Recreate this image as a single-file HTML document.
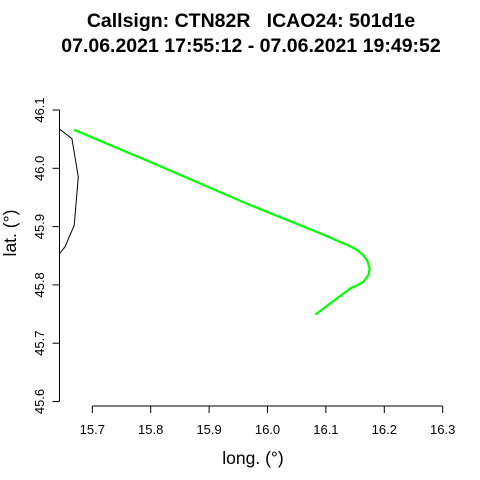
<!DOCTYPE html>
<html><head><meta charset="utf-8"><style>
html,body{margin:0;padding:0;background:#fff;}
svg{display:block;font-family:"Liberation Sans",Arial,sans-serif;}
</style></head><body>
<svg id="chart" width="480" height="480" viewBox="0 0 480 480">
<rect width="480" height="480" fill="#fff"/>
<text x="251" y="27" text-anchor="middle" font-size="19.5" font-weight="bold">Callsign: CTN82R&#160;&#160;&#160;ICAO24: 501d1e</text>
<text x="251" y="52" text-anchor="middle" font-size="19.5" font-weight="bold">07.06.2021 17:55:12 - 07.06.2021 19:49:52</text>
<text x="253" y="464" text-anchor="middle" font-size="17.5">long. (°)</text>
<text transform="translate(16,233) rotate(-90)" text-anchor="middle" font-size="17.5">lat. (°)</text>
<g id="axes"></g>
<g id="marks"></g>
</svg>
<script>
const xTicks = [15.7, 15.8, 15.9, 16.0, 16.1, 16.2, 16.3];
const xTickLabels = ["15.7","15.8","15.9","16.0","16.1","16.2","16.3"];
const yTicks = [45.6, 45.7, 45.8, 45.9, 46.0, 46.1];
const yTickLabels = ["45.6","45.7","45.8","45.9","46.0","46.1"];
const borderLon = [15.644, 15.665, 15.676, 15.669, 15.653, 15.644];
const borderLat = [46.067, 46.051, 45.985, 45.902, 45.865, 45.854];
const trackLon = [15.669, 15.799, 15.970, 16.084, 16.142, 16.153, 16.164, 16.171, 16.175, 16.173, 16.164, 16.153, 16.142, 16.107, 16.082];
const trackLat = [46.066, 46.011, 45.937, 45.891, 45.866, 45.860, 45.851, 45.841, 45.828, 45.817, 45.805, 45.799, 45.794, 45.768, 45.749];

const NS = "http://www.w3.org/2000/svg";
function sx(v){ return 92.3 + (v - 15.7) * 584; }
function sy(v){ return 110 + (46.1 - v) * 583; }
const axes = document.getElementById('axes');
const marks = document.getElementById('marks');
function mk(tag, attrs, parent){
  const e = document.createElementNS(NS, tag);
  for (const k in attrs) e.setAttribute(k, attrs[k]);
  parent.appendChild(e);
  return e;
}
const xl = mk('line', {x1: sx(xTicks[0]), x2: sx(xTicks[xTicks.length-1]), y1: 406, y2: 406, stroke: '#000'}, axes);


xTicks.forEach((t, i) => {
  const tk = mk('line', {x1: sx(t), x2: sx(t), y1: 406, y2: 413, stroke: '#000'}, axes);
  
  
  const lb = mk('text', {x: sx(t), y: 434, 'text-anchor': 'middle', 'font-size': '13'}, axes);
  lb.textContent = xTickLabels[i];
  
  
});
const yl = mk('line', {x1: 59.5, x2: 59.5, y1: sy(yTicks[0]), y2: sy(yTicks[yTicks.length-1]), stroke: '#000'}, axes);


yTicks.forEach((t, i) => {
  const tk = mk('line', {x1: 52.5, x2: 59.5, y1: sy(t), y2: sy(t), stroke: '#000'}, axes);
  
  
  const lb = mk('text', {transform: 'translate(44,' + sy(t) + ') rotate(-90)', 'text-anchor': 'middle', 'font-size': '13'}, axes);
  lb.textContent = yTickLabels[i];
  
  
});
function pts(lon, lat){ return lon.map((v, i) => sx(v).toFixed(1) + ',' + sy(lat[i]).toFixed(1)).join(' '); }
const b = mk('polyline', {points: pts(borderLon, borderLat), fill: 'none', stroke: '#000', 'stroke-width': '1'}, marks);


const tr = mk('polyline', {points: pts(trackLon, trackLat), fill: 'none', stroke: '#00ff00', 'stroke-width': '2.2', 'stroke-linejoin': 'round'}, marks);


</script>
</body></html>
